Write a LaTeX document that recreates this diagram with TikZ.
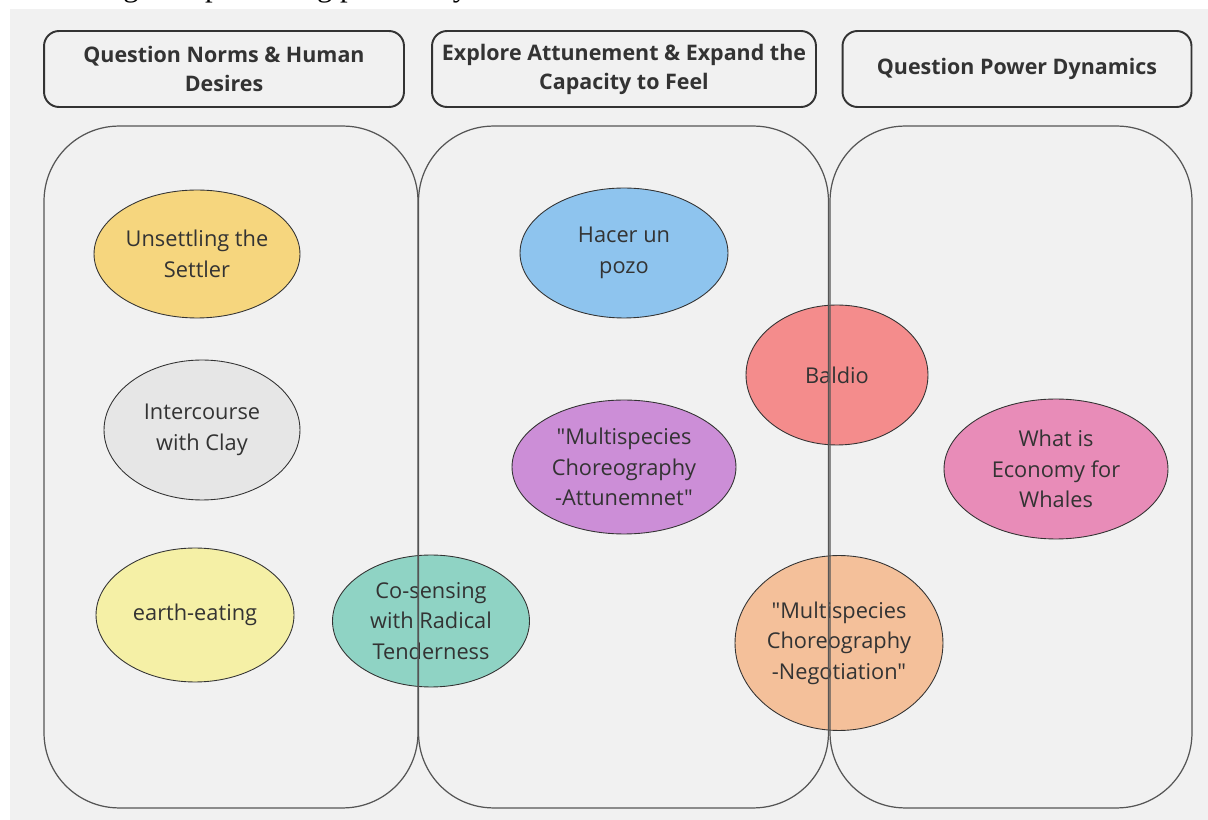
\documentclass[tikz,border=0pt]{standalone}
\usepackage{fontspec}
\newfontfamily\osans{Open Sans}
\newfontfamily\capserif{Liberation Serif}
\usetikzlibrary{shapes.geometric}
\definecolor{bggray}{HTML}{F1F1F1}
\definecolor{txt}{HTML}{333333}
\definecolor{hdrline}{HTML}{333333}
\definecolor{colline}{HTML}{555555}
\definecolor{cyellow}{HTML}{F6D67E}
\definecolor{cgray}{HTML}{E6E6E6}
\definecolor{cpale}{HTML}{F5F0A6}
\definecolor{cteal}{HTML}{8FD3C4}
\definecolor{cblue}{HTML}{8EC4EE}
\definecolor{cred}{HTML}{F48C8C}
\definecolor{cpurple}{HTML}{CC8ED7}
\definecolor{cpink}{HTML}{E88CB8}
\definecolor{corange}{HTML}{F4C09A}
\tikzset{
  hdr/.style={draw=hdrline, line width=1.1pt, rounded corners=0.3cm, minimum height=1.52cm,
    text=txt, align=center, font=\osans\fontsize{12.2}{16.5}\selectfont\bfseries, inner sep=0pt},
  col/.style={draw=colline, line width=0.7pt, rounded corners=1.5cm, minimum height=13.64cm, inner sep=0pt},
  blob/.style={ellipse, draw=black!80, line width=0.5pt, inner sep=0pt, text=txt, align=center,
    font=\osans\fontsize{12.4}{17.3}\selectfont},
}
\begin{document}
\begin{tikzpicture}[x=0.02cm,y=-0.02cm]
\useasboundingbox (0,0) rectangle (1208,820);
\fill[white] (0,0) rectangle (1208,820);
\node[anchor=base west, inner sep=0pt, font=\capserif\fontsize{17.5}{20}\selectfont] (cap) at (99,-3.5) {ing a map showing possibility};
\fill[bggray] (10,9) rectangle (1208,820);
% headers
\node[hdr, minimum width=7.2cm] (h1) at (224,69) {Question Norms \& Human\\Desires};
\node[hdr, minimum width=7.68cm] (h2) at (624,69) {Explore Attunement \& Expand the\\Capacity to Feel};
\node[hdr, minimum width=6.98cm] (h3) at (1017,69) {Question Power Dynamics};
% ellipses
\node[blob, fill=cyellow, minimum width=4.12cm, minimum height=2.56cm] (e1) at (197,254) {Unsettling the\\Settler};
\node[blob, fill=cgray, minimum width=3.92cm, minimum height=2.8cm] (e2) at (202,430) {Intercourse\\with Clay};
\node[blob, fill=cpale, minimum width=3.96cm, minimum height=2.68cm] (e3) at (195,615) {earth-eating};
\node[blob, fill=cteal, minimum width=3.94cm, minimum height=2.64cm] (e4) at (431,621) {Co-sensing\\with Radical\\Tenderness};
\node[blob, fill=cblue, minimum width=4.16cm, minimum height=2.6cm] (e5) at (624,253) {Hacer un\\pozo};
\node[blob, fill=cred, minimum width=3.64cm, minimum height=2.8cm] (e6) at (837,375) {Baldio};
\node[blob, fill=cpurple, minimum width=4.48cm, minimum height=2.68cm] (e7) at (624,467) {"Multispecies\\Choreography\\-Attunemnet"};
\node[blob, fill=cpink, minimum width=4.48cm, minimum height=2.8cm] (e8) at (1056,469) {What is\\Economy for\\Whales};
\node[blob, fill=corange, minimum width=4.16cm, minimum height=3.5cm] (e9) at (839,643) {"Multispecies\\Choreography\\-Negotiation"};
% columns
\node[col, minimum width=7.48cm] (c1) at (231,467) {};
\node[col, minimum width=8.2cm] (c2) at (623.5,467) {};
\node[col, minimum width=7.24cm] (c3) at (1011,467) {};
\end{tikzpicture}
\end{document}
